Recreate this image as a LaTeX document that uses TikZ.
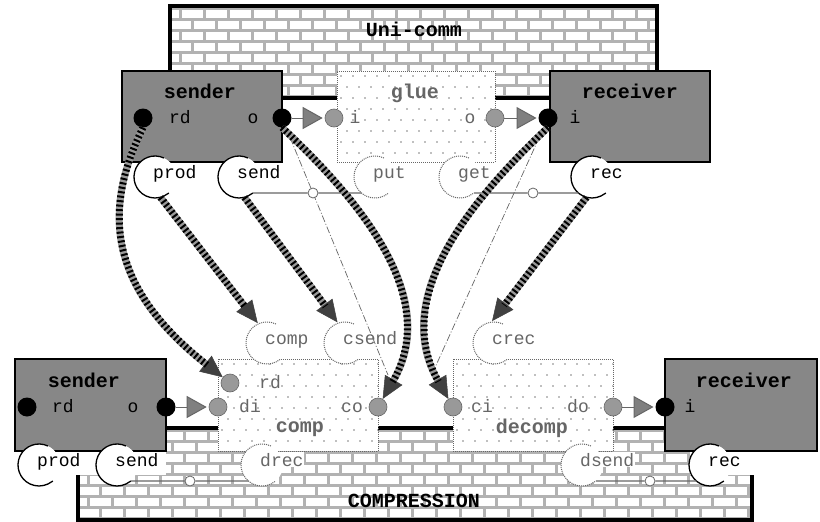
\documentclass[tikz,border=0pt]{standalone}
\usepackage{fontspec}
\setmonofont{Liberation Mono}
\usetikzlibrary{arrows.meta,calc}
\tikzset{
 obox/.style={draw=black, line width=1.5pt, fill=black!47, anchor=north west, inner sep=0pt, outer sep=0pt},
 ibox/.style={draw=black!60, line width=1pt, densely dotted, fill=white, anchor=north west, inner sep=0pt, outer sep=0pt},
 wallborder/.style={draw=black, line width=4pt},
 ttl/.style={font=\ttfamily\bfseries\fontsize{20}{20}\selectfont, inner sep=0pt, anchor=base},
 ittl/.style={ttl, text=black!60},
 lbl/.style={font=\ttfamily\fontsize{18}{18}\selectfont, inner sep=0pt, anchor=base},
 ilbl/.style={lbl, text=black!60},
 outerplbl/.style={lbl, fill=white, inner sep=1pt},
 innerplbl/.style={ilbl, fill=white, inner sep=1pt},
 outerarc/.style={draw=black, line width=1.3pt},
 innerarc/.style={draw=black!60, line width=1pt, densely dotted},
 bdot/.style={circle, fill=black, minimum size=19pt, inner sep=0pt, outer sep=0pt},
 gdot/.style={circle, fill=black!40, draw=black!60, line width=0.6pt, minimum size=18pt, inner sep=0pt},
 conn/.style={draw=black!60, line width=1pt, shorten >=2pt, -{Triangle[length=20pt,width=22pt,fill=black!50]}},
 bind/.style={draw=black!60, line width=1.3pt},
 smallc/.style={circle, draw=black!60, fill=white, line width=0.8pt, minimum size=10pt, inner sep=0pt},
 dashdot/.style={draw=black!60, line width=0.7pt, dash pattern=on 7pt off 2pt on 1pt off 2pt},
 hatch/.style={line width=7pt, draw=black!40, -{Triangle[length=22pt,width=20pt,fill=black!75,color=black!75,line width=0.5pt]}, postaction={draw=black, line width=7pt, dash pattern=on 2pt off 2.5pt, -, shorten >=20pt}}
}
\newcommand{\brickwall}[4]{%
  \begin{scope}
  \clip (#1,#2) rectangle (#3,#4);
  \fill[black!30] (#1,#2) rectangle (#3,#4);
  \foreach \bi in {0,...,9}{
    \foreach \bj in {0,...,29}{
      \fill[white] ({#1-12+12*mod(\bi,2)+24*\bj},{#2+3.5+11*\bi}) rectangle ++(21,8);
    }
  }
  \end{scope}
  \draw[wallborder] (#1,#2) rectangle (#3,#4);
}
\newcommand{\dottex}[4]{%
  \begin{scope}
  \clip (#1,#2) rectangle (#3,#4);
  \foreach \bi in {0,...,8}{
    \foreach \bj in {0,...,14}{
      \fill[black!50] ({#1+4+12*\bj+6*mod(\bi,2)},{#2+5+11*\bi}) circle[radius=0.8pt];
    }
  }
  \end{scope}
}
\newcommand{\mkport}[5]{%
  \coordinate (#1-c) at (#2,#3);
  \fill[white] (#1-c) circle[radius=21pt];
  \node[#5plbl, anchor=base west] (#1) at ($(#1-c)+(-3,1)$) {#4};
  \draw[#5arc] ($(#1-c)+(65:21pt)$) arc[start angle=65, end angle=295, radius=21pt] -- ++(5,-3) coordinate (#1-t);
}
\begin{document}
\begin{tikzpicture}[x=1pt,y=-1pt]
\fill[white] (0,0) rectangle (820,522);
\useasboundingbox (0,0) rectangle (820,522);

% walls
\brickwall{170}{6}{657}{98}
\brickwall{78}{428}{752}{520}
\fill[white] (72,449) rectangle (166,475);
\fill[white] (690,449) rectangle (758,475);
\node[ttl] (wtop) at (414,36) {Uni-comm};
\node[ttl] (wbot) at (414,507) {COMPRESSION};

% boxes
\node[obox, minimum width=160pt, minimum height=91pt] (tsnd) at (122,71) {};
\node[ibox, minimum width=158pt, minimum height=91pt] (glue) at (337,71) {};
\dottex{337}{71}{495}{162}
\node[obox, minimum width=160pt, minimum height=91pt] (trcv) at (550,71) {};
\node[obox, minimum width=151pt, minimum height=92pt] (bsnd) at (15,359) {};
\node[ibox, minimum width=160pt, minimum height=92pt] (comp) at (218,359) {};
\dottex{218}{359}{378}{451}
\node[ibox, minimum width=160pt, minimum height=92pt] (decomp) at (453,359) {};
\dottex{453}{359}{613}{451}
\node[obox, minimum width=152pt, minimum height=92pt] (brcv) at (665,359) {};

% titles
\node[ttl] (t1) at (200,98) {sender};
\node[ittl] (t2) at (415,98) {glue};
\node[ttl] (t3) at (630,98) {receiver};
\node[ttl] (t4) at (84,387) {sender};
\node[ittl] (t5) at (300,432) {comp};
\node[ittl] (t6) at (532,433) {decomp};
\node[ttl] (t7) at (744,387) {receiver};

% interface labels
\node[lbl] (l1) at (180,123) {rd};
\node[lbl] (l2) at (253,123) {o};
\node[ilbl] (l3) at (355,123) {i};
\node[ilbl] (l4) at (470,123) {o};
\node[lbl] (l5) at (575,123) {i};
\node[lbl] (l6) at (63,412) {rd};
\node[lbl] (l7) at (133,412) {o};
\node[ilbl] (l8) at (270,388) {rd};
\node[ilbl] (l9) at (250,412) {di};
\node[ilbl] (l10) at (352,412) {co};
\node[ilbl] (l11) at (482,412) {ci};
\node[ilbl] (l12) at (578,412) {do};
\node[lbl] (l13) at (690,412) {i};

% dots
\node[bdot] (srd) at (143,118) {};
\node[bdot] (sro) at (282,118) {};
\node[gdot] (gli) at (334,118) {};
\node[gdot] (glo) at (495,118) {};
\node[bdot] (rti) at (548,118) {};
\node[bdot] (brd) at (27,407) {};
\node[bdot] (bso) at (166,407) {};
\node[gdot] (cdi) at (218,407) {};
\node[gdot] (crd) at (230,383) {};
\node[gdot] (cco) at (378,407) {};
\node[gdot] (dci) at (453,407) {};
\node[gdot] (ddo) at (613,407) {};
\node[bdot] (rbi) at (665,407) {};

% inner connections
\draw[conn] (sro) -- (gli);
\draw[conn] (glo) -- (rti);
\draw[conn] (bso) -- (cdi);
\draw[conn] (ddo) -- (rbi);

% ports
\mkport{tprod}{155}{177}{prod}{outer}
\mkport{tsend}{239}{177}{send}{outer}
\mkport{tput}{375}{177}{put}{inner}
\mkport{tget}{460}{177}{get}{inner}
\mkport{trec}{592}{177}{rec}{outer}
\mkport{pcomp}{267}{343}{comp}{inner}
\mkport{pcsend}{345}{343}{csend}{inner}
\mkport{pcrec}{494}{343}{crec}{inner}
\mkport{bprod}{39}{465}{prod}{outer}
\mkport{bsend}{117}{465}{send}{outer}
\mkport{bdrec}{262}{465}{drec}{inner}
\mkport{bdsend}{582}{465}{dsend}{inner}
\mkport{brec}{710}{465}{rec}{outer}

% dash-dot lines
\coordinate (dE) at (388,375);
\coordinate (dF) at (433,372);
\draw[dashdot] (sro) -- (dE);
\draw[dashdot] (rti) -- (dF);

% bindings
\node[smallc] (sc1) at (313,193) {};
\node[smallc] (sc2) at (533,193) {};
\node[smallc] (sc3) at (190,481) {};
\node[smallc] (sc4) at (650,481) {};
\draw[bind] (tsend-t) -- (sc1) -- ($(tput-c)+(230:21pt)$);
\draw[bind] (tget-t) -- (sc2) -- ($(trec-c)+(230:21pt)$);
\draw[bind] (bsend-t) -- (sc3) -- ($(bdrec-c)+(230:21pt)$);
\draw[bind] (bdsend-t) -- (sc4) -- ($(brec-c)+(230:21pt)$);

% big hatched arrows
\draw[hatch] ($(tprod-c)+(285:21pt)$) -- ($(pcomp-c)+(115:22pt)$);
\draw[hatch] ($(tsend-c)+(285:21pt)$) -- ($(pcsend-c)+(110:22pt)$);
\draw[hatch] ($(trec-c)+(255:21pt)$) -- ($(pcrec-c)+(95:22pt)$);
\draw[hatch] (srd.south) .. controls (100,215) and (112,290) .. (crd);
\draw[hatch] (sro.south) .. controls (365,205) and (440,300) .. (cco);
\draw[hatch] (rti.south) .. controls (465,205) and (392,300) .. (dci);
\end{tikzpicture}
\end{document}
